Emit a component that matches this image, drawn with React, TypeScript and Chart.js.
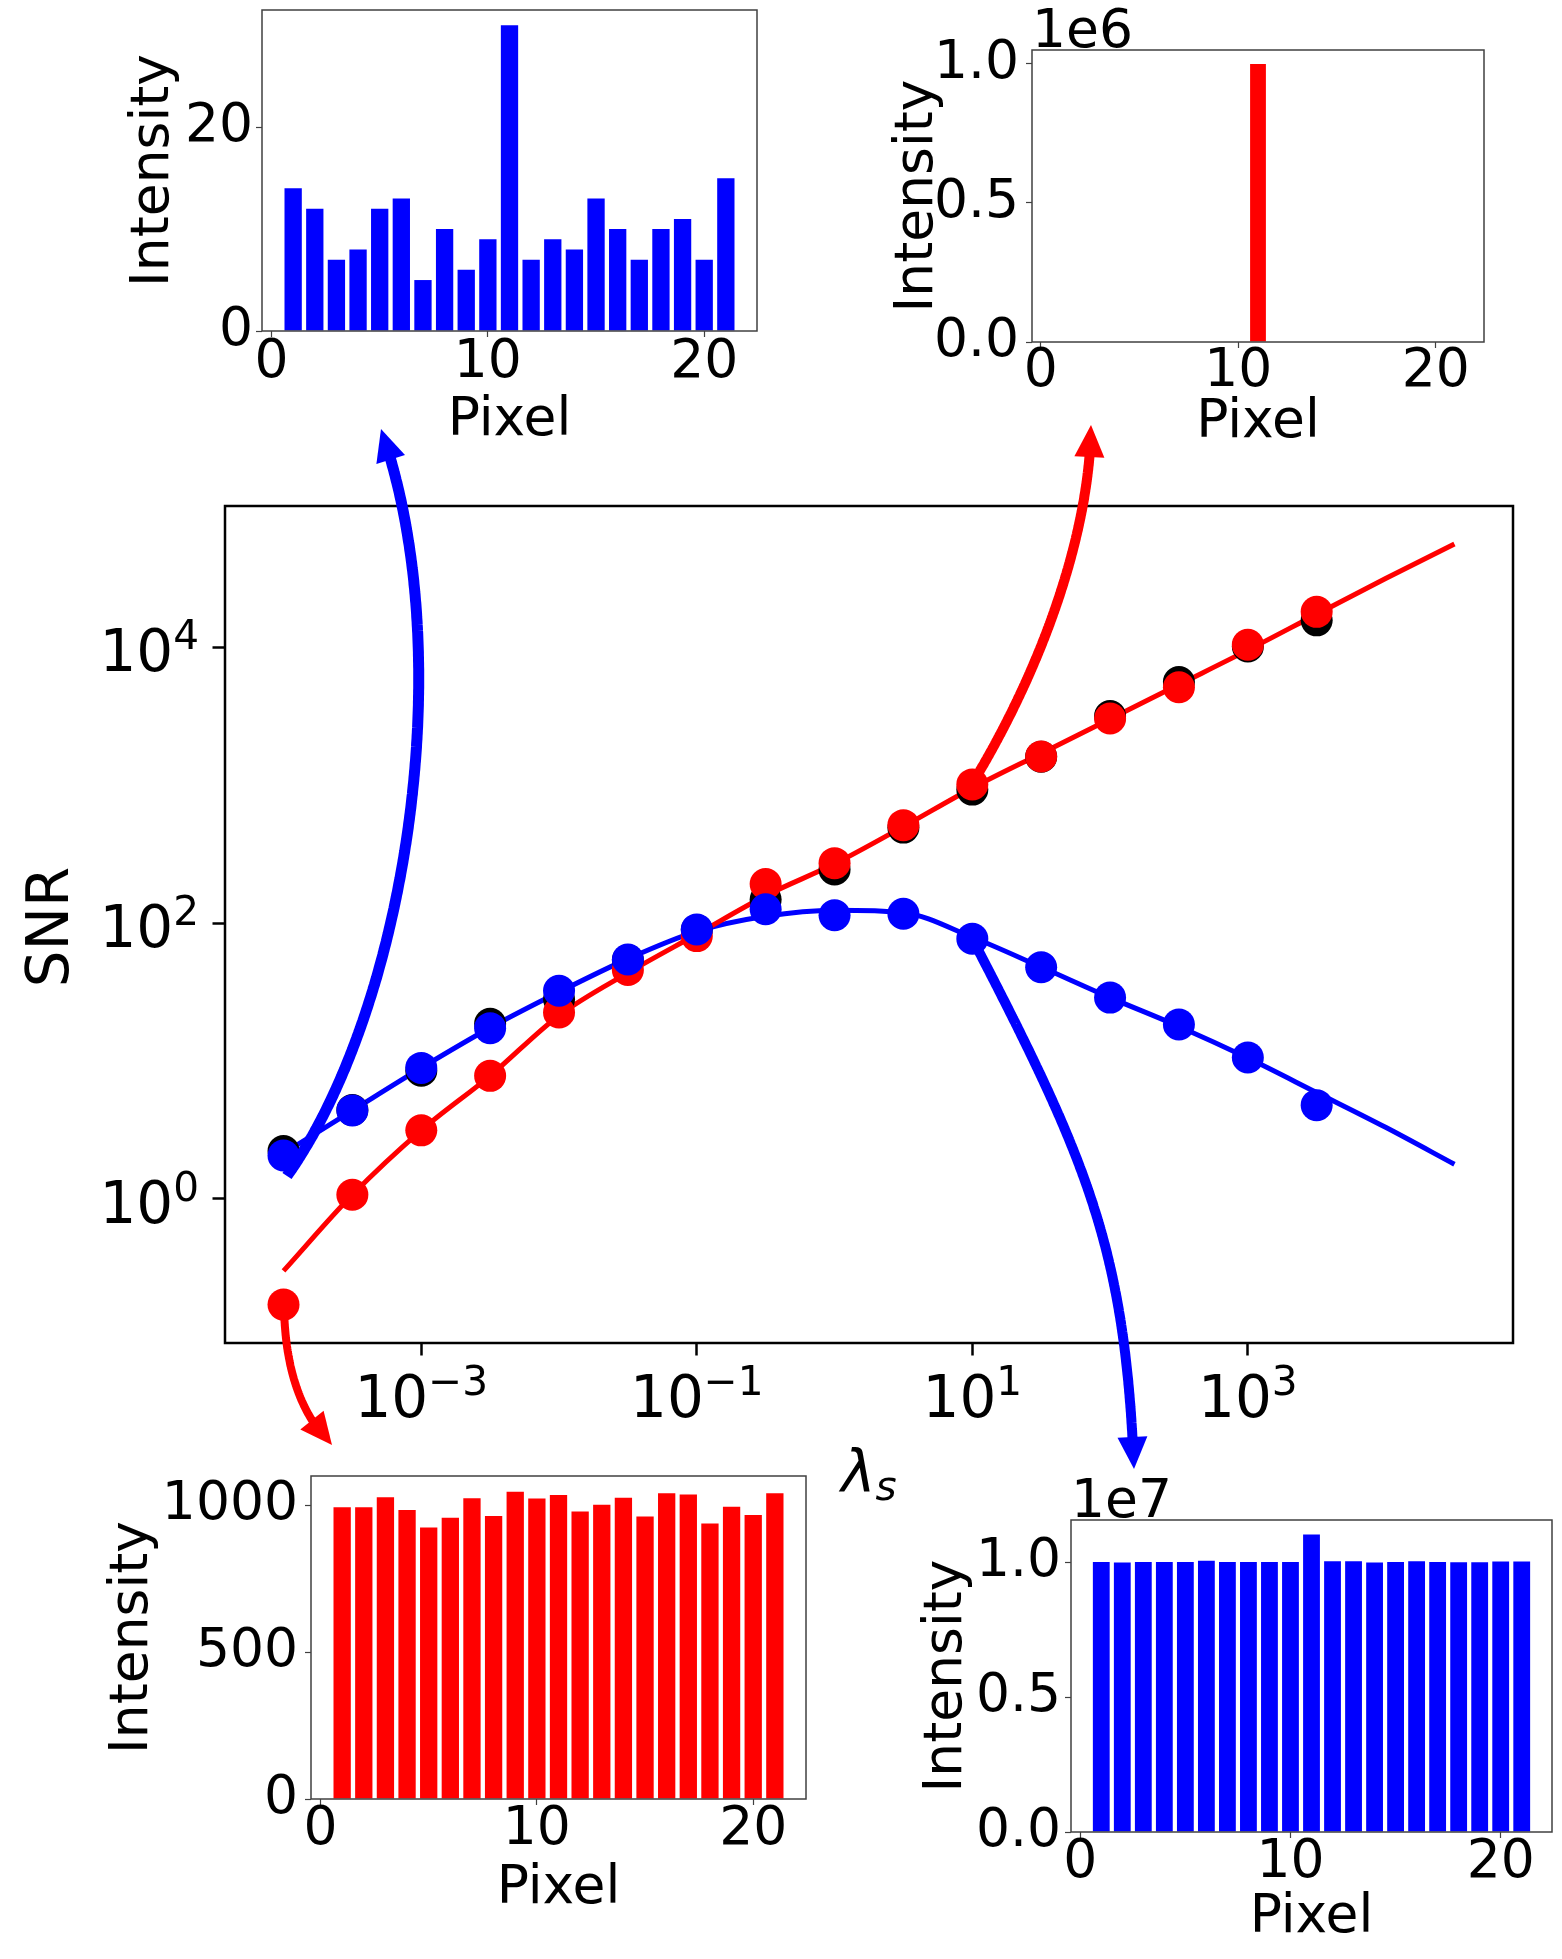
import { useEffect, useRef } from "react";
import { Chart, registerables, type Plugin } from "chart.js";

Chart.register(...registerables);

const FONT = '"DejaVu Sans", sans-serif';
const RED = "#ff0000";
const BLUE = "#0000ff";
const BLACK = "#000000";

// main plot: SNR against lambda_s, half-decade samples
const lambdaS = [0.0001, 0.000316, 0.001, 0.00316, 0.01, 0.0316, 0.1, 0.316, 1, 3.16, 10, 31.6, 100, 316, 1000, 3160];
const snrBlack = [2.22, 4.4, 8.5, 18.6, 28, 54, 89, 148, 245, 493, 930, 1610, 3180, 5600, 10140, 15700];
const snrRed = [0.171, 1.07, 3.14, 7.8, 22.5, 45.7, 80.5, 192, 272, 513, 1014, 1614, 3050, 5140, 10440, 18100];
const snrBlue = [2.06, 4.38, 8.9, 17.3, 32.3, 54.4, 90, 126, 114, 117, 77, 47.8, 28.8, 18.4, 10.6, 4.78];

// smooth curves
const curveLambda = [0.0001, 0.000316, 0.001, 0.00316, 0.01, 0.0316, 0.1, 0.316, 1, 3.16, 10, 31.6, 100, 316, 1000, 3160, 10000, 31600];
const curveRed = [0.3, 1.07, 3.14, 7.8, 21.4, 43.6, 83, 158, 269, 501, 955, 1700, 3020, 5370, 9550, 17400, 31600, 56200];
const curveBlue = [2.14, 4.37, 8.9, 17.4, 31.6, 55, 87, 112, 124, 119, 79, 48, 28.8, 17.8, 10.5, 5.9, 3.3, 1.78];

const lambdaTicks = [0.001, 0.1, 10, 1000];
const snrTicks = [1, 100, 10000];
const lambdaRange = [3.76e-5, 8.41e4];
const snrRange = [0.09, 1.06e5];

// inset histograms
const pixels = [1, 2, 3, 4, 5, 6, 7, 8, 9, 10, 11, 12, 13, 14, 15, 16, 17, 18, 19, 20, 21];
const pixelTicks = [0, 10, 20];
const countsTopLeft = [14, 12, 7, 8, 12, 13, 5, 10, 6, 9, 30, 7, 9, 8, 13, 10, 7, 10, 11, 7, 15];
const countsTopRight = [0, 0, 0, 0, 0, 0, 0, 0, 0, 0, 1000000, 0, 0, 0, 0, 0, 0, 0, 0, 0, 0];
const countsBottomLeft = [994, 994, 1028, 984, 925, 958, 1024, 964, 1046, 1023, 1035, 979, 1002, 1026, 962, 1041, 1037, 938, 995, 967, 1041];
const countsBottomRight = [
  10025000, 10000000, 10025000, 10020000, 10025000, 10070000, 10025000, 10025000, 10025000, 10025000, 11040000,
  10050000, 10050000, 10000000, 10025000, 10050000, 10025000, 10010000, 10010000, 10040000, 10040000,
];

const ticksTopLeft = [0, 20];
const labelsTopLeft = ["0", "20"];
const ticksTopRight = [0, 500000, 1000000];
const labelsTopRight = ["0.0", "0.5", "1.0"];
const ticksBottomLeft = [0, 500, 1000];
const labelsBottomLeft = ["0", "500", "1000"];
const ticksBottomRight = [0, 5000000, 10000000];
const labelsBottomRight = ["0.0", "0.5", "1.0"];

const PAGE_W = 1562;
const PAGE_H = 1959;

type Box = { L: number; T: number; R: number; B: number };

const INSET_SIZE = 53.5;
const INSET_LH = INSET_SIZE * 1.2;

interface InsetProps {
  box: Box;
  yTitleX: number;
  xTitleY: number;
  values: number[];
  color: string;
  yMax: number;
  yTicks: number[];
  yLabels: string[];
  yPad: number;
  xPad: number;
  offsetText?: string;
}

function Inset({ box, yTitleX, xTitleY, values, color, yMax, yTicks, yLabels, yPad, xPad, offsetText }: InsetProps) {
  const canvasRef = useRef<HTMLCanvasElement>(null);

  const axisLeft = yTitleX - INSET_LH / 2;
  const axisBottom = xTitleY + INSET_LH / 2;
  const left = Math.floor(axisLeft - 10);
  const top = box.T - 70;
  const right = Math.min(box.R + 40, PAGE_W);
  const bottom = Math.min(Math.ceil(axisBottom + 10), PAGE_H);
  const width = right - left;
  const height = bottom - top;

  useEffect(() => {
    if (!canvasRef.current) return;
    const yAxisW = box.L - axisLeft;
    const xAxisH = axisBottom - box.B;

    const frame: Plugin<"bar"> = {
      id: "insetFrame",
      afterDraw(chart) {
        const { ctx, chartArea: a } = chart;
        ctx.save();
        ctx.strokeStyle = "#404040";
        ctx.lineWidth = 1.5;
        ctx.strokeRect(a.left, a.top, a.right - a.left, a.bottom - a.top);
        if (offsetText) {
          ctx.fillStyle = BLACK;
          ctx.font = `${INSET_SIZE}px ${FONT}`;
          ctx.textAlign = "left";
          ctx.textBaseline = "alphabetic";
          ctx.fillText(offsetText, a.left, a.top - 3);
        }
        ctx.restore();
      },
    };

    const zeroPad = (s: any) => {
      s.paddingLeft = 0;
      s.paddingRight = 0;
      s.paddingTop = 0;
      s.paddingBottom = 0;
    };

    const tickFont = { family: FONT, size: INSET_SIZE, lineHeight: 1 };
    const titleFont = { family: FONT, size: INSET_SIZE, lineHeight: 1.2 };

    const chart = new Chart(canvasRef.current, {
      type: "bar",
      data: {
        datasets: [
          {
            data: pixels.map((p, i) => ({ x: p, y: values[i] })),
            backgroundColor: color,
            borderWidth: 0,
            barPercentage: 0.8,
            categoryPercentage: 1,
          },
        ],
      },
      options: {
        animation: false,
        responsive: false,
        layout: {
          padding: { left: axisLeft - left, top: box.T - top, right: right - box.R, bottom: bottom - axisBottom },
        },
        plugins: { legend: { display: false }, tooltip: { enabled: false } },
        scales: {
          x: {
            type: "linear",
            min: -0.44,
            max: 22.44,
            offset: false,
            afterBuildTicks: (s: any) => {
              s.ticks = pixelTicks.map((v) => ({ value: v }));
            },
            afterFit: (s: any) => {
              s.height = xAxisH;
              zeroPad(s);
            },
            grid: { offset: false, drawOnChartArea: false, drawTicks: true, tickLength: 6, tickWidth: 1.2, tickColor: "#404040" },
            border: { display: false },
            ticks: { color: BLACK, font: tickFont, padding: xPad, maxRotation: 0, minRotation: 0, autoSkip: false, callback: (v: any) => String(v) },
            title: { display: true, text: "Pixel", color: BLACK, font: titleFont, padding: 0 },
          },
          y: {
            type: "linear",
            min: 0,
            max: yMax,
            afterBuildTicks: (s: any) => {
              s.ticks = yTicks.map((v) => ({ value: v }));
            },
            afterFit: (s: any) => {
              s.width = yAxisW;
              zeroPad(s);
            },
            grid: { drawOnChartArea: false, drawTicks: true, tickLength: 6, tickWidth: 1.2, tickColor: "#404040" },
            border: { display: false },
            ticks: { color: BLACK, font: tickFont, padding: yPad, autoSkip: false, callback: (_v: any, i: number) => yLabels[i] },
            title: { display: true, text: "Intensity", color: BLACK, font: titleFont, padding: 0 },
          },
        },
      },
      plugins: [frame],
    });

    return () => chart.destroy();
  }, []);

  return (
    <canvas
      ref={canvasRef}
      width={width}
      height={height}
      style={{ position: "absolute", left, top, width, height }}
    />
  );
}

const MAIN_SIZE = 58;
const SUP_SIZE = MAIN_SIZE * 0.7;
const MAIN_TOP = 470;
const MAIN_H = 1060;

function drawPower(ctx: CanvasRenderingContext2D, exp: number, x: number, baseline: number, align: "center" | "right") {
  const sup = exp < 0 ? "\u2212" + Math.abs(exp) : String(exp);
  ctx.font = `${MAIN_SIZE}px ${FONT}`;
  const w10 = ctx.measureText("10").width;
  ctx.font = `${SUP_SIZE}px ${FONT}`;
  const ws = ctx.measureText(sup).width;
  const total = w10 + ws;
  const x0 = align === "center" ? x - total / 2 : x - total;
  ctx.textAlign = "left";
  ctx.textBaseline = "alphabetic";
  ctx.font = `${MAIN_SIZE}px ${FONT}`;
  ctx.fillText("10", x0, baseline);
  ctx.font = `${SUP_SIZE}px ${FONT}`;
  ctx.fillText(sup, x0 + w10, baseline - 22);
}

function MainChart() {
  const canvasRef = useRef<HTMLCanvasElement>(null);

  useEffect(() => {
    if (!canvasRef.current) return;

    const labels: Plugin<"scatter"> = {
      id: "mainLabels",
      afterDraw(chart) {
        const { ctx, chartArea: a, scales } = chart;
        ctx.save();
        ctx.strokeStyle = BLACK;
        ctx.lineWidth = 2.5;
        ctx.strokeRect(a.left, a.top, a.right - a.left, a.bottom - a.top);
        ctx.fillStyle = BLACK;
        lambdaTicks.forEach((v) => {
          drawPower(ctx, Math.round(Math.log10(v)), scales.x.getPixelForValue(v), a.bottom + 74, "center");
        });
        snrTicks.forEach((v) => {
          drawPower(ctx, Math.round(Math.log10(v)), a.left - 26, scales.y.getPixelForValue(v) + 24, "right");
        });
        // axis titles
        ctx.font = `${MAIN_SIZE}px ${FONT}`;
        ctx.textAlign = "center";
        ctx.textBaseline = "middle";
        ctx.save();
        ctx.translate(53, 927 - MAIN_TOP);
        ctx.rotate(-Math.PI / 2);
        ctx.fillText("SNR", 0, 0);
        ctx.restore();
        ctx.textAlign = "left";
        ctx.textBaseline = "alphabetic";
        ctx.font = `italic ${MAIN_SIZE}px ${FONT}`;
        const wl = ctx.measureText("\u03bb").width;
        ctx.font = `italic ${SUP_SIZE}px ${FONT}`;
        const wsub = ctx.measureText("s").width;
        const lx = (a.left + a.right) / 2 - (wl + wsub) / 2;
        ctx.font = `italic ${MAIN_SIZE}px ${FONT}`;
        ctx.fillText("\u03bb", lx, 1492 - MAIN_TOP);
        ctx.font = `italic ${SUP_SIZE}px ${FONT}`;
        ctx.fillText("s", lx + wl, 1500 - MAIN_TOP);
        ctx.restore();
      },
    };

    const pts = (xs: number[], ys: number[]) => xs.map((x, i) => ({ x, y: ys[i] }));
    const dot = { pointRadius: 16, pointHoverRadius: 16, pointBorderWidth: 0, showLine: false };

    const chart = new Chart(canvasRef.current, {
      type: "scatter",
      data: {
        datasets: [
          { data: pts(lambdaS, snrBlue), backgroundColor: BLUE, borderColor: BLUE, order: 0, ...dot },
          { data: pts(lambdaS, snrRed), backgroundColor: RED, borderColor: RED, order: 1, ...dot },
          { data: pts(lambdaS, snrBlack), backgroundColor: BLACK, borderColor: BLACK, order: 2, ...dot },
          {
            data: pts(curveLambda, curveRed),
            borderColor: RED,
            borderWidth: 5,
            pointRadius: 0,
            showLine: true,
            cubicInterpolationMode: "monotone",
            order: 3,
          },
          {
            data: pts(curveLambda, curveBlue),
            borderColor: BLUE,
            borderWidth: 5,
            pointRadius: 0,
            showLine: true,
            cubicInterpolationMode: "monotone",
            order: 4,
          },
        ],
      },
      options: {
        animation: false,
        responsive: false,
        layout: { padding: { left: 25, top: 36, right: 49, bottom: 37 } },
        plugins: { legend: { display: false }, tooltip: { enabled: false } },
        scales: {
          x: {
            type: "logarithmic",
            min: lambdaRange[0],
            max: lambdaRange[1],
            afterBuildTicks: (s: any) => {
              s.ticks = lambdaTicks.map((v) => ({ value: v }));
            },
            afterFit: (s: any) => {
              s.height = 150;
              s.paddingLeft = 0;
              s.paddingRight = 0;
            },
            grid: { drawOnChartArea: false, drawTicks: true, tickLength: 12.5, tickWidth: 2.5, tickColor: BLACK },
            border: { display: false },
            ticks: { autoSkip: false, maxRotation: 0, callback: () => "" },
          },
          y: {
            type: "logarithmic",
            min: snrRange[0],
            max: snrRange[1],
            afterBuildTicks: (s: any) => {
              s.ticks = snrTicks.map((v) => ({ value: v }));
            },
            afterFit: (s: any) => {
              s.width = 200;
              s.paddingTop = 0;
              s.paddingBottom = 0;
            },
            grid: { drawOnChartArea: false, drawTicks: true, tickLength: 12.5, tickWidth: 2.5, tickColor: BLACK },
            border: { display: false },
            ticks: { autoSkip: false, callback: () => "" },
          },
        },
      },
      plugins: [labels],
    });

    return () => chart.destroy();
  }, []);

  return (
    <canvas
      ref={canvasRef}
      width={PAGE_W}
      height={MAIN_H}
      style={{ position: "absolute", left: 0, top: MAIN_TOP, width: PAGE_W, height: MAIN_H }}
    />
  );
}

type Pt = [number, number];

// curved pointers from the main plot to the insets (cubic Bezier control points)
const ARROWS: { color: string; width: number; pts: Pt[] }[] = [
  { color: BLUE, width: 11, pts: [[287, 1176], [402, 1014], [463, 664], [381, 429]] },
  { color: RED, width: 10, pts: [[975, 779], [1045, 662], [1090, 530], [1091, 425]] },
  { color: RED, width: 8, pts: [[284, 1306], [285, 1369], [301, 1415], [332, 1445]] },
  { color: BLUE, width: 10, pts: [[973, 940], [1088, 1162], [1125, 1249], [1134, 1469]] },
];
const HEAD_LEN = 32;
const HEAD_HALF = 15;

function arrowGeometry(pts: Pt[]) {
  const [p0, p1, p2, p3] = pts;
  const bez = (t: number): Pt => {
    const u = 1 - t;
    const a = u * u * u, b = 3 * u * u * t, c = 3 * u * t * t, d = t * t * t;
    return [a * p0[0] + b * p1[0] + c * p2[0] + d * p3[0], a * p0[1] + b * p1[1] + c * p2[1] + d * p3[1]];
  };
  const samples: Pt[] = [];
  for (let i = 0; i <= 300; i++) samples.push(bez(i / 300));
  const dist = (q: Pt) => Math.hypot(q[0] - p3[0], q[1] - p3[1]);
  let headIdx = samples.length - 1;
  while (headIdx > 0 && dist(samples[headIdx]) < HEAD_LEN) headIdx--;
  let lineIdx = samples.length - 1;
  while (lineIdx > 0 && dist(samples[lineIdx]) < HEAD_LEN * 0.6) lineIdx--;
  const from = samples[headIdx];
  const len = dist(from);
  const dx = (p3[0] - from[0]) / len;
  const dy = (p3[1] - from[1]) / len;
  const bx = p3[0] - dx * HEAD_LEN;
  const by = p3[1] - dy * HEAD_LEN;
  const head = [
    [p3[0], p3[1]],
    [bx - dy * HEAD_HALF, by + dx * HEAD_HALF],
    [bx + dy * HEAD_HALF, by - dx * HEAD_HALF],
  ];
  const line = samples.slice(0, lineIdx + 1);
  return {
    line: line.map((q) => `${q[0].toFixed(1)},${q[1].toFixed(1)}`).join(" "),
    head: head.map((q) => `${q[0].toFixed(1)},${q[1].toFixed(1)}`).join(" "),
  };
}

function Arrows() {
  return (
    <svg
      width={PAGE_W}
      height={PAGE_H}
      style={{ position: "absolute", left: 0, top: 0, pointerEvents: "none" }}
    >
      {ARROWS.map((a, i) => {
        const g = arrowGeometry(a.pts);
        return (
          <g key={i}>
            <polyline points={g.line} fill="none" stroke={a.color} strokeWidth={a.width} strokeLinejoin="round" />
            <polygon points={g.head} fill={a.color} />
          </g>
        );
      })}
    </svg>
  );
}

export default function App() {
  return (
    <div
      style={{
        position: "absolute",
        left: 0,
        top: 0,
        width: PAGE_W,
        height: PAGE_H,
        overflow: "hidden",
        background: "#ffffff",
      }}
    >
      <MainChart />
      <Inset
        box={{ L: 262, T: 10, R: 757, B: 331 }}
        yTitleX={154}
        xTitleY={421}
        values={countsTopLeft}
        color={BLUE}
        yMax={31.5}
        yTicks={ticksTopLeft}
        yLabels={labelsTopLeft}
        yPad={3}
        xPad={-0.25}
      />
      <Inset
        box={{ L: 1032, T: 50, R: 1484, B: 342 }}
        yTitleX={918}
        xTitleY={423}
        values={countsTopRight}
        color={RED}
        yMax={1050000}
        yTicks={ticksTopRight}
        yLabels={labelsTopRight}
        yPad={7}
        xPad={-2.25}
        offsetText="1e6"
      />
      <Inset
        box={{ L: 311, T: 1476, R: 806, B: 1799 }}
        yTitleX={133}
        xTitleY={1889}
        values={countsBottomLeft}
        color={RED}
        yMax={1100}
        yTicks={ticksBottomLeft}
        yLabels={labelsBottomLeft}
        yPad={7}
        xPad={-1.25}
      />
      <Inset
        box={{ L: 1071, T: 1520, R: 1552, B: 1832 }}
        yTitleX={947}
        xTitleY={1918}
        values={countsBottomRight}
        color={BLUE}
        yMax={11580000}
        yTicks={ticksBottomRight}
        yLabels={labelsBottomRight}
        yPad={4}
        xPad={-1.25}
        offsetText="1e7"
      />
      <Arrows />
    </div>
  );
}
